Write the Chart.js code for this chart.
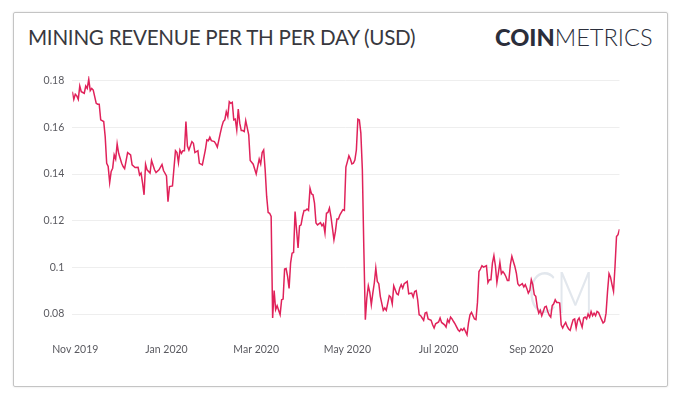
<!DOCTYPE html>
<html>
<head>
<meta charset="utf-8">
<script src="https://cdn.jsdelivr.net/npm/chart.js@4/dist/chart.umd.min.js"></script>
<style>
  html, body { margin: 0; padding: 0; background: #ffffff; }
  body { width: 680px; height: 397px; position: relative; overflow: hidden; font-family: Lato, "Open Sans", sans-serif; }
  #frame { position: absolute; left: 13px; top: 12px; width: 653px; height: 373px; border: 1.5px solid #c4c4c4; border-radius: 2px; box-shadow: 0 0 2px rgba(0,0,0,0.15); }
  #title { position: absolute; left: 28px; top: 25px; font-size: 20.6px; font-weight: 400; color: #38383e; letter-spacing: -0.25px; white-space: nowrap; }
  #logo { position: absolute; left: 495px; top: 23px; font-size: 23.6px; color: #2b2e3b; white-space: nowrap; }
  #logo b { font-weight: 900; }
  #logo span { font-weight: 300; }
  canvas { position: absolute; left: 0; top: 0; }
</style>
</head>
<body>
<div id="frame"></div>
<div id="title">MINING REVENUE PER TH PER DAY (USD)</div>
<div id="logo"><b>COIN</b><span>METRICS</span></div>
<canvas id="c" width="680" height="397"></canvas>
<script>
// Days counted from 2019-11-01 (day 0)
const dayOffsets = [-2,-1,0,1,2,3,4,6,7,8,9,10,11,12,14,15,16,17,19,20,21,22,23,24,25,26,27,28,29,31,32,33,35,37,38,40,42,43,44,45,46,47,48,50,51,53,54,56,58,59,61,62,63,65,67,68,69,70,71,72,73,74,75,76,78,79,80,82,83,85,87,88,89,90,91,93,94,95,97,98,99,100,101,102,103,104,105,106,107,108,109,110,111,112,113,114,116,117,119,121,123,124,125,126,127,128,129,130,131,132,133,134,135,136,137,138,139,140,141,142,143,144,145,146,147,148,149,150,151,152,153,154,155,156,157,158,159,160,161,162,164,165,166,167,168,169,170,171,172,173,174,175,176,177,179,180,181,182,183,184,185,186,187,188,189,190,191,192,193,194,195,196,197,198,199,200,201,202,203,204,206,207,208,209,210,211,212,213,215,216,217,218,219,220,221,222,223,225,226,227,228,229,230,231,232,233,234,235,236,238,239,240,241,243,244,245,247,248,249,250,251,252,253,254,256,257,258,259,260,262,263,264,265,267,268,269,270,271,272,273,275,276,277,278,279,280,281,282,283,284,285,286,287,288,289,290,291,292,293,294,295,296,297,299,300,301,302,303,304,305,306,307,308,309,310,311,312,313,314,315,316,317,318,319,320,321,322,323,324,325,326,327,328,329,330,331,332,333,334,335,336,337,339,340,341,342,343,344,345,346,347,348,349,350,352,353,354,355,356,357,358,359,360,361,362,363,364];
const revenuePerTH = [0.1753,0.172,0.1742,0.1735,0.172,0.1777,0.1753,0.1746,0.1777,0.1767,0.1806,0.1757,0.1767,0.176,0.1703,0.1699,0.1699,0.1632,0.1625,0.156,0.1446,0.1432,0.1363,0.1411,0.1425,0.1482,0.1464,0.1529,0.1489,0.1446,0.1432,0.1423,0.1492,0.1482,0.1439,0.1428,0.1429,0.1396,0.1404,0.1361,0.1311,0.1442,0.1418,0.1404,0.1458,0.1418,0.1406,0.1418,0.1441,0.1415,0.1392,0.1281,0.1346,0.1349,0.15,0.1492,0.1449,0.1503,0.1489,0.15,0.15,0.1625,0.152,0.1503,0.1539,0.1532,0.1492,0.15,0.1446,0.1439,0.1503,0.1546,0.1543,0.1558,0.1543,0.1539,0.1529,0.1515,0.1575,0.1603,0.1625,0.1632,0.1667,0.1646,0.171,0.1703,0.1707,0.1632,0.1635,0.1589,0.1678,0.1618,0.1586,0.1586,0.1582,0.1629,0.1568,0.1458,0.1442,0.14,0.1464,0.1443,0.1492,0.1503,0.1418,0.1304,0.1235,0.1232,0.1218,0.0783,0.0901,0.0819,0.0836,0.0816,0.0797,0.0861,0.0864,0.0993,0.0995,0.0961,0.091,0.1018,0.1061,0.1064,0.1239,0.1161,0.1083,0.1178,0.1182,0.1218,0.1244,0.1244,0.125,0.1244,0.1339,0.1315,0.1311,0.1275,0.119,0.1182,0.1192,0.1178,0.1187,0.1147,0.1232,0.1235,0.1254,0.1218,0.1168,0.1118,0.1154,0.1207,0.1207,0.1225,0.1247,0.1244,0.143,0.1453,0.1478,0.1464,0.1443,0.1446,0.146,0.1503,0.1635,0.1632,0.1575,0.142,0.108,0.0776,0.0869,0.0921,0.0893,0.084,0.089,0.0933,0.0997,0.094,0.093,0.0876,0.0816,0.0826,0.0816,0.0847,0.0879,0.0873,0.0844,0.0921,0.0887,0.0883,0.0911,0.0926,0.0911,0.093,0.0935,0.094,0.0887,0.089,0.0873,0.0897,0.09,0.0861,0.0797,0.0793,0.0783,0.0773,0.0804,0.0807,0.0779,0.0773,0.0754,0.074,0.0758,0.0766,0.0783,0.0764,0.0754,0.0744,0.0776,0.0764,0.0787,0.0779,0.0768,0.0758,0.0733,0.0726,0.0736,0.073,0.0739,0.0711,0.0762,0.0797,0.0807,0.0779,0.0776,0.085,0.0982,0.0993,0.1007,0.1001,0.1007,0.0935,0.0947,0.0947,0.1018,0.105,0.1007,0.0935,0.0976,0.1021,0.0973,0.0982,0.0973,0.0961,0.0944,0.0944,0.1011,0.1047,0.1025,0.1004,0.0976,0.093,0.0921,0.093,0.0916,0.0926,0.091,0.089,0.0901,0.0947,0.0926,0.0883,0.0876,0.083,0.0804,0.0816,0.0793,0.0811,0.083,0.0833,0.0811,0.0795,0.0787,0.0836,0.0844,0.0861,0.085,0.085,0.0847,0.0754,0.074,0.0754,0.0764,0.0747,0.0736,0.073,0.0754,0.0776,0.0779,0.074,0.0773,0.0783,0.0744,0.0783,0.0787,0.0779,0.08,0.0787,0.0811,0.0793,0.0804,0.0793,0.0811,0.0807,0.0776,0.0762,0.0768,0.0804,0.0897,0.0973,0.0958,0.0926,0.0897,0.1004,0.1132,0.114,0.1164];

const xTickDays = [0, 61, 121, 182, 243, 305];
const xTickLabels = ["Nov 2019", "Jan 2020", "Mar 2020", "May 2020", "Jul 2020", "Sep 2020"];
const yTickValues = [0.08, 0.10, 0.12, 0.14, 0.16, 0.18];

const points = dayOffsets.map((d, i) => ({ x: d, y: revenuePerTH[i] }));

const watermark = {
  id: 'watermark',
  beforeDatasetsDraw(chart) {
    const ctx = chart.ctx;
    ctx.save();
    ctx.fillStyle = '#e2e7ed';
    ctx.font = '300 58px Lato';
    ctx.textBaseline = 'alphabetic';
    ctx.translate(528, 313);
    ctx.scale(0.72, 1);
    ctx.fillText('CM', 0, 0);
    ctx.restore();
  }
};

new Chart(document.getElementById('c'), {
  type: 'line',
  data: {
    datasets: [{
      data: points,
      borderColor: '#e0225a',
      borderWidth: 1.5,
      pointRadius: 0,
      tension: 0,
      fill: false
    }]
  },
  options: {
    responsive: false,
    animation: false,
    devicePixelRatio: 1,
    layout: { padding: { left: 0, top: 76, right: 60.5, bottom: 39.6 } },
    plugins: { legend: { display: false }, tooltip: { enabled: false } },
    scales: {
      x: {
        type: 'linear',
        min: -2,
        max: 364,
        afterBuildTicks: (s) => { s.ticks = xTickDays.map(v => ({ value: v })); },
        afterFit: (s) => { s.height = 20; },
        grid: { display: false, drawTicks: false },
        border: { display: false },
        ticks: {
          autoSkip: false,
          maxRotation: 0,
          padding: 6,
          color: '#5a5a60',
          font: { family: 'Lato', size: 10.5 },
          callback: (v) => xTickLabels[xTickDays.indexOf(v)] || ''
        }
      },
      y: {
        min: 0.07,
        max: 0.182,
        afterBuildTicks: (s) => { s.ticks = yTickValues.map(v => ({ value: v })); },
        afterFit: (s) => { s.width = 72.3; },
        grid: { color: '#eeeeee', lineWidth: 1, drawTicks: false },
        border: { display: false },
        ticks: {
          padding: 8,
          color: '#5a5a60',
          font: { family: 'Lato', size: 10.5 },
          callback: (v) => String(+Number(v).toFixed(2))
        }
      }
    }
  },
  plugins: [watermark]
});
</script>
</body>
</html>
